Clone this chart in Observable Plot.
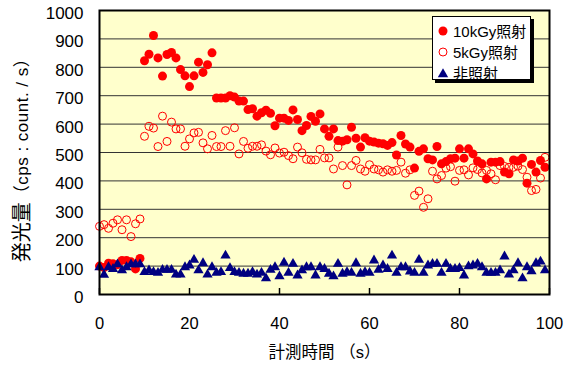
<!DOCTYPE html>
<html><head><meta charset="utf-8">
<script src="https://cdn.jsdelivr.net/npm/d3@7"></script>
<script src="https://cdn.jsdelivr.net/npm/@observablehq/plot@0.6"></script>
<style>
body{margin:0;background:#fff;font-family:"Liberation Sans","Noto Sans CJK JP",sans-serif;}
#wrap{position:relative;width:567px;height:367px;}
.legend{position:absolute;left:432px;top:16px;width:97px;height:62px;background:#fff;border:1px solid #000;box-shadow:3px 3px 0 #000;}
.row{position:absolute;left:0;height:21px;display:flex;align-items:center;font-size:15px;color:#000;white-space:nowrap;}
.row svg{margin-left:4px;margin-right:4px;}
</style></head>
<body><div id="wrap"></div>
<script>
const times = [0,1,2,3,4,5,6,7,8,9,10,11,12,13,14,15,16,17,18,19,20,21,22,23,24,25,26,27,28,29,30,31,32,33,34,35,36,37,38,39,40,41,42,43,44,45,46,47,48,49,50,51,52,53,54,55,56,57,58,59,60,61,62,63,64,65,66,67,68,69,70,71,72,73,74,75,76,77,78,79,80,81,82,83,84,85,86,87,88,89,90,91,92,93,94,95,96,97,98,99];
const dose10 = [100,95,110,108,105,120,120,115,90,127,
823,846,912,833,769,845,852,833,792,770,
732,770,818,782,809,851,692,692,692,700,
695,681,681,651,654,628,640,649,638,594,
621,621,613,650,616,577,595,627,610,636,
583,557,583,542,540,545,589,550,519,552,
540,537,533,531,525,535,491,560,530,519,
445,504,513,478,474,521,460,468,478,480,
513,480,513,495,470,460,407,466,466,468,
431,425,474,470,480,392,458,431,472,448];
const dose5 = [240,246,233,251,263,228,263,204,249,266,
557,592,586,521,628,539,607,583,583,522,
548,569,571,534,513,560,521,521,577,522,
587,495,539,515,522,522,527,505,492,516,
498,501,489,478,519,499,476,474,474,511,
481,481,442,519,454,386,454,472,442,434,
457,442,439,431,439,434,437,466,427,439,
349,364,307,337,434,407,419,445,450,399,
437,439,421,446,440,428,437,425,404,454,
451,448,448,452,440,413,366,370,410,483];
const control = [96,69,96,90,106,85,96,106,106,106,
79,85,79,76,87,87,87,70,70,96,
102,122,85,110,70,96,76,79,137,93,
79,76,73,73,79,70,76,57,87,96,
64,112,76,108,67,85,96,96,67,96,
90,73,64,108,73,79,76,110,73,79,
76,120,87,102,90,137,76,96,96,81,
76,122,76,102,108,108,76,108,90,90,
93,67,99,102,108,96,76,76,76,85,
134,70,85,110,57,96,82,110,116,85];
const seriesNames = ["10kGy照射","5kGy照射","非照射"];
const xTicks = [0,20,40,60,80,100];
const yTicks = [0,100,200,300,400,500,600,700,800,900,1000];
const xLabel = "計測時間 （s）";
const yLabelMain = "発光量";
const yLabelUnit = "（cps : count. / s）";

const red = "#FF0000", navy = "#000080";
const W = 567, H = 367, mL = 99, mR = 18, mT = 10, mB = 73;
const toRows = arr => times.map((t, i) => ({t, v: arr[i]}));
const font = '"Liberation Sans","Noto Sans CJK JP",sans-serif';

const svg = Plot.plot({
  width: W, height: H,
  marginLeft: mL, marginRight: mR, marginTop: mT, marginBottom: mB,
  style: {fontFamily: font, color: "#000", background: "#fff"},
  x: {domain: [0, 100]},
  y: {domain: [0, 1000]},
  marks: [
    Plot.frame({fill: "#FFFFCC", stroke: null}),
    Plot.ruleY(yTicks, {stroke: "#333", strokeWidth: 1}),
    Plot.tickX(xTicks, {x: d => d, stroke: "#000", strokeWidth: 1.5, insetTop: H - mT - mB - 6}),
    Plot.dot(toRows(dose10), {x: "t", y: "v", r: 4.5, fill: red, stroke: null}),
    Plot.dot(toRows(dose5), {x: "t", y: "v", r: 4, fill: "none", stroke: red, strokeWidth: 1}),
    Plot.dot(toRows(control), {x: "t", y: "v", r: 3.8, symbol: "triangle", fill: navy, stroke: null}),
    Plot.frame({stroke: "#000", strokeWidth: 2}),
    Plot.axisY({ticks: yTicks, tickSize: 0, tickPadding: 16, fontSize: 17, dy: 3, label: null, tickFormat: d => String(d)}),
    Plot.axisX({ticks: xTicks, tickSize: 0, tickPadding: 23, fontSize: 16.5, label: xLabel, labelAnchor: "center", labelArrow: "none", labelOffset: 63, tickFormat: d => String(d)})
  ]
});
d3.select(svg).selectAll("[aria-label='x-axis label'] text").attr("font-size", 16.5);

const yl = d3.select(svg).append("text")
  .attr("transform", "translate(22,156) rotate(-90)")
  .attr("text-anchor", "middle")
  .attr("dominant-baseline", "central")
  .attr("font-family", font)
  .attr("fill", "#000");
yl.append("tspan").attr("font-size", 20).text(yLabelMain);
yl.append("tspan").attr("font-size", 17).attr("letter-spacing", 0.5).text(yLabelUnit);

const wrap = document.getElementById("wrap");
wrap.appendChild(svg);

const legend = document.createElement("div");
legend.className = "legend";
const markers = [
  `<svg width="12" height="12"><circle cx="6" cy="6" r="4.5" fill="${red}"/></svg>`,
  `<svg width="12" height="12"><circle cx="6" cy="6" r="4" fill="none" stroke="${red}"/></svg>`,
  `<svg width="12" height="12"><path d="M6,1.2L11.2,10.2L0.8,10.2Z" fill="${navy}"/></svg>`
];
seriesNames.forEach((name, i) => {
  const row = document.createElement("div");
  row.className = "row";
  row.style.top = (3 + i * 21) + "px";
  row.innerHTML = markers[i] + `<span>${name}</span>`;
  legend.appendChild(row);
});
wrap.appendChild(legend);
</script></body></html>
